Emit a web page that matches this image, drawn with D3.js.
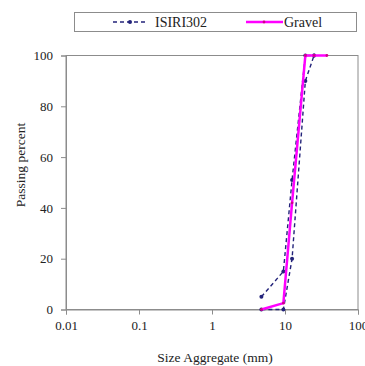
<!DOCTYPE html>
<html>
<head>
<meta charset="utf-8">
<script src="https://cdn.jsdelivr.net/npm/d3@7"></script>
<style>
  body { margin: 0; background: #fff; }
  svg text { font-family: "Liberation Serif", "Times New Roman", serif; fill: #222; }
</style>
</head>
<body>
<div id="chart"></div>
<script>
// sieve sizes (mm) and passing percent
const isiriUpper = [
  { size: 4.75, pass: 5 },
  { size: 9.5, pass: 15 },
  { size: 12.5, pass: 51 },
  { size: 19, pass: 100 },
  { size: 25, pass: 100 }
]
const isiriLower = [
  { size: 4.75, pass: 0 },
  { size: 9.5, pass: 0 },
  { size: 12.5, pass: 20 },
  { size: 19, pass: 90 },
  { size: 25, pass: 100 }
]
const gravel = [
  { size: 4.75, pass: 0 },
  { size: 9.5, pass: 2.5 },
  { size: 12.5, pass: 42 },
  { size: 19, pass: 100 },
  { size: 25, pass: 100 },
  { size: 37.5, pass: 100 }
]
const xTicks = [0.01, 0.1, 1, 10, 100]
const xTickLabels = ["0.01", "0.1", "1", "10", "100"]
const yTicks = [0, 20, 40, 60, 80, 100]

const width = 365
const height = 366
const plot = { left: 66, right: 358, top: 55.5, bottom: 309.5 }
const navy = "#23237a"
const magenta = "#ff00ff"

const svg = d3.select("#chart").append("svg")
  .attr("width", width)
  .attr("height", height)

const x = d3.scaleLog()
  .domain([0.01, 100])
  .range([plot.left, plot.right])

const y = d3.scaleLinear()
  .domain([0, 100])
  .range([plot.bottom, plot.top])

// plot frame
svg.append("rect")
  .attr("x", plot.left).attr("y", plot.top)
  .attr("width", plot.right - plot.left)
  .attr("height", plot.bottom - plot.top)
  .attr("fill", "none")
  .attr("stroke", "#8c8c8c")
  .attr("stroke-width", 1)

const xAxis = svg.append("g")
  .attr("transform", "translate(0," + plot.bottom + ")")
  .call(d3.axisBottom(x).tickValues(xTicks).tickFormat((d, i) => xTickLabels[i]).tickSize(5).tickPadding(6))
xAxis.select(".domain").attr("stroke", "#8c8c8c")
xAxis.selectAll(".tick line").attr("stroke", "#8c8c8c")
xAxis.selectAll("text").style("font-size", "13px").attr("fill", "#222")
  .style("font-family", "'Liberation Serif', serif")

const yAxis = svg.append("g")
  .attr("transform", "translate(" + plot.left + ",0)")
  .call(d3.axisLeft(y).tickValues(yTicks).tickSize(5).tickPadding(8))
yAxis.select(".domain").attr("stroke", "#8c8c8c")
yAxis.selectAll(".tick line").attr("stroke", "#8c8c8c")
yAxis.selectAll("text").style("font-size", "13px").attr("fill", "#222")
  .style("font-family", "'Liberation Serif', serif")

const line = d3.line()
  .x(d => x(d.size))
  .y(d => y(d.pass))

// ISIRI 302 limits
;[isiriUpper, isiriLower].forEach(series => {
  svg.append("path")
    .datum(series)
    .attr("fill", "none")
    .attr("stroke", navy)
    .attr("stroke-width", 1.4)
    .attr("stroke-dasharray", "4,3")
    .attr("d", line)
  svg.append("g").selectAll("circle")
    .data(series)
    .enter().append("circle")
    .attr("cx", d => x(d.size))
    .attr("cy", d => y(d.pass))
    .attr("r", 2)
    .attr("fill", navy)
})

// gravel curve
svg.append("path")
  .datum(gravel)
  .attr("fill", "none")
  .attr("stroke", magenta)
  .attr("stroke-width", 2.5)
  .attr("d", line)
svg.append("g").selectAll("circle")
  .data(gravel)
  .enter().append("circle")
  .attr("cx", d => x(d.size))
  .attr("cy", d => y(d.pass))
  .attr("r", 1.4)
  .attr("fill", "#d0008a")

// axis titles
svg.append("text")
  .attr("x", 215).attr("y", 362)
  .attr("text-anchor", "middle")
  .style("font-size", "13.5px")
  .text("Size Aggregate (mm)")

svg.append("text")
  .attr("transform", "translate(25,165) rotate(-90)")
  .attr("text-anchor", "middle")
  .style("font-size", "13.5px")
  .text("Passing percent")

// legend
const legend = svg.append("g")
legend.append("rect")
  .attr("x", 74.5).attr("y", 12.5)
  .attr("width", 282).attr("height", 19)
  .attr("fill", "#fff")
  .attr("stroke", "#8c8c8c")

legend.append("line")
  .attr("x1", 113).attr("x2", 146).attr("y1", 22).attr("y2", 22)
  .attr("stroke", navy).attr("stroke-width", 1.4).attr("stroke-dasharray", "4,3")
legend.append("circle")
  .attr("cx", 130).attr("cy", 22).attr("r", 2).attr("fill", navy)
legend.append("text")
  .attr("x", 155).attr("y", 27)
  .style("font-size", "14px")
  .text("ISIRI302")

legend.append("line")
  .attr("x1", 246).attr("x2", 283).attr("y1", 22).attr("y2", 22)
  .attr("stroke", magenta).attr("stroke-width", 2.5)
legend.append("circle")
  .attr("cx", 264).attr("cy", 22).attr("r", 1.4).attr("fill", "#d0008a")
legend.append("text")
  .attr("x", 284).attr("y", 27)
  .style("font-size", "14px")
  .text("Gravel")
</script>
</body>
</html>
